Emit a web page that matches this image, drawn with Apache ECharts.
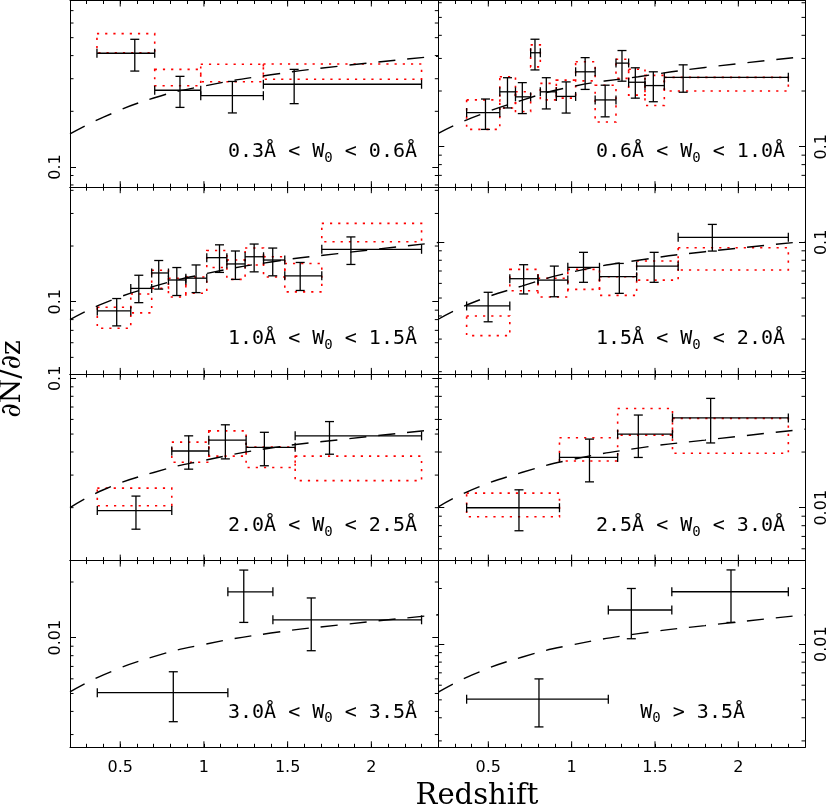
<!DOCTYPE html>
<html>
<head>
<meta charset="utf-8">
<title>dN/dz vs redshift</title>
<script src="https://cdn.jsdelivr.net/npm/echarts@6/dist/echarts.min.js"></script>
<style>
html, body { margin: 0; padding: 0; background: #fff; }
#chart { width: 830px; height: 807px; }
</style>
</head>
<body>
<div id="chart"></div>

<script>
// panel labels, W0 ranges
var panelTitles = ['0.3Å < W₀ < 0.6Å', '0.6Å < W₀ < 1.0Å', '1.0Å < W₀ < 1.5Å', '1.5Å < W₀ < 2.0Å',
                   '2.0Å < W₀ < 2.5Å', '2.5Å < W₀ < 3.0Å', '3.0Å < W₀ < 3.5Å', 'W₀ > 3.5Å'];

// measured points (one list per panel)
var zCenter = [
  [0.587, 0.857, 1.170, 1.539],
  [0.483, 0.615, 0.704, 0.780, 0.848, 0.967, 1.081, 1.201, 1.302, 1.382, 1.490, 1.669],
  [0.479, 0.611, 0.730, 0.838, 0.953, 1.093, 1.188, 1.300, 1.411, 1.575, 1.878],
  [0.499, 0.712, 0.896, 1.071, 1.286, 1.495, 1.844],
  [0.594, 0.909, 1.128, 1.361, 1.750],
  [0.684, 1.107, 1.400, 1.834],
  [0.817, 1.238, 1.641],
  [0.804, 1.358, 1.956]
];
var zLow = [
  [0.361, 0.706, 0.981, 1.355],
  [0.370, 0.569, 0.663, 0.754, 0.812, 0.908, 1.024, 1.141, 1.266, 1.342, 1.440, 1.556],
  [0.363, 0.563, 0.688, 0.788, 0.892, 1.017, 1.137, 1.246, 1.356, 1.483, 1.704],
  [0.370, 0.629, 0.798, 0.977, 1.167, 1.390, 1.639],
  [0.363, 0.808, 1.029, 1.252, 1.545],
  [0.370, 0.927, 1.276, 1.605],
  [0.363, 1.143, 1.412],
  [0.370, 1.220, 1.601]
];
var zHigh = [
  [0.706, 0.981, 1.355, 2.3],
  [0.569, 0.663, 0.754, 0.812, 0.908, 1.024, 1.141, 1.266, 1.342, 1.440, 1.556, 2.3],
  [0.563, 0.688, 0.788, 0.892, 1.017, 1.137, 1.246, 1.356, 1.483, 1.704, 2.3],
  [0.629, 0.798, 0.977, 1.167, 1.390, 1.639, 2.3],
  [0.808, 1.029, 1.252, 1.545, 2.3],
  [0.927, 1.276, 1.605, 2.3],
  [1.143, 1.412, 2.3],
  [1.220, 1.601, 2.3]
];
var dNdz = [
  [0.412, 0.260, 0.243, 0.280],
  [0.153, 0.198, 0.186, 0.322, 0.198, 0.187, 0.254, 0.179, 0.283, 0.223, 0.214, 0.237],
  [0.0891, 0.118, 0.143, 0.131, 0.134, 0.173, 0.160, 0.175, 0.168, 0.138, 0.192],
  [0.0453, 0.0636, 0.0625, 0.0733, 0.0652, 0.0744, 0.1064],
  [0.0193, 0.0405, 0.0463, 0.0424, 0.0489],
  [0.0100, 0.0187, 0.0250, 0.0306],
  [0.00505, 0.0177, 0.0125],
  [0.00504, 0.0153, 0.0192]
];
var dNdzLow = [
  [0.330, 0.210, 0.196, 0.220],
  [0.124, 0.162, 0.151, 0.260, 0.160, 0.152, 0.204, 0.145, 0.226, 0.183, 0.175, 0.197],
  [0.0740, 0.0988, 0.117, 0.108, 0.112, 0.144, 0.132, 0.145, 0.138, 0.115, 0.159],
  [0.0372, 0.0526, 0.0508, 0.0608, 0.0530, 0.0608, 0.0897],
  [0.0153, 0.0323, 0.0367, 0.0337, 0.0389],
  [0.00751, 0.0138, 0.0187, 0.0224],
  [0.00352, 0.0121, 0.00851],
  [0.00357, 0.0107, 0.0131]
];
var dNdzHigh = [
  [0.490, 0.309, 0.290, 0.337],
  [0.181, 0.236, 0.222, 0.381, 0.236, 0.224, 0.303, 0.215, 0.331, 0.267, 0.254, 0.277],
  [0.104, 0.139, 0.167, 0.153, 0.158, 0.203, 0.188, 0.205, 0.195, 0.163, 0.224],
  [0.0537, 0.0757, 0.0744, 0.0883, 0.0769, 0.0883, 0.125],
  [0.0231, 0.0489, 0.0561, 0.0511, 0.0584],
  [0.0125, 0.0235, 0.0317, 0.0390],
  [0.00655, 0.0232, 0.0164],
  [0.00649, 0.0200, 0.0252]
];

// red dotted boxes (same z bins), bottom / top
var boxLow = [
  [0.414, 0.275, 0.289, 0.298],
  [0.124, 0.162, 0.155, 0.270, 0.179, 0.183, 0.227, 0.136, 0.234, 0.190, 0.167, 0.200],
  [0.0718, 0.087, 0.118, 0.106, 0.111, 0.153, 0.132, 0.158, 0.136, 0.113, 0.211],
  [0.0313, 0.0547, 0.0506, 0.0557, 0.0517, 0.0625, 0.0709],
  [0.0205, 0.0352, 0.0380, 0.0330, 0.0280],
  [0.00894, 0.0179, 0.0247, 0.0197],
  [],
  []
];
var boxHigh = [
  [0.526, 0.337, 0.359, 0.360],
  [0.179, 0.239, 0.198, 0.355, 0.220, 0.229, 0.288, 0.215, 0.297, 0.262, 0.243, 0.237],
  [0.0933, 0.110, 0.148, 0.134, 0.136, 0.189, 0.168, 0.195, 0.175, 0.161, 0.265],
  [0.0400, 0.0714, 0.0640, 0.0714, 0.0652, 0.0792, 0.0935],
  [0.0255, 0.0452, 0.0520, 0.0425, 0.0380],
  [0.0120, 0.0239, 0.0344, 0.0304],
  [],
  []
];

var curveZ = [0.2, 0.4, 0.7, 1.0, 1.4, 1.8, 2.4];
var curveDNdz = [
  [0.151, 0.186, 0.236, 0.274, 0.315, 0.350, 0.398],
  [0.118, 0.143, 0.178, 0.211, 0.239, 0.268, 0.307],
  [0.080, 0.098, 0.121, 0.141, 0.164, 0.182, 0.209],
  [0.0384, 0.047, 0.058, 0.069, 0.080, 0.089, 0.101],
  [0.0200, 0.0250, 0.0310, 0.0360, 0.0420, 0.0465, 0.0530],
  [0.0101, 0.0125, 0.0155, 0.0182, 0.0210, 0.0232, 0.0266],
  [0.0051, 0.0063, 0.0079, 0.0092, 0.0106, 0.0117, 0.0133],
  [0.0055, 0.0068, 0.0085, 0.0099, 0.0114, 0.0126, 0.0144]
];

// axes
var yMin = [0.0778, 0.0604, 0.0407, 0.01945, 0.01035, 0.00518, 0.00256, 0.00277];
var yMax = [0.794, 0.617, 0.416, 0.1986, 0.1057, 0.0529, 0.0261, 0.0283];
var xMajor = [0.5, 1, 1.5, 2];
var mantissas = [2, 3, 4, 5, 6, 7, 8, 9];
var decades = [0.001, 0.01, 0.1];

// layout
var colLeft = [70, 438.3];
var colWidth = [368.3, 369.4];
var rowTop = [0.5, 187.2, 373.9, 560.6];
var rowH = 186.7;
var titleRight = [417, 785, 417, 785, 417, 785, 417, 745];

var chart = echarts.init(document.getElementById('chart'));

function renderBox(params, api) {
  var a = api.coord([api.value(0), api.value(3)]);
  var b = api.coord([api.value(1), api.value(2)]);
  return {
    type: 'rect',
    shape: { x: a[0], y: a[1], width: b[0] - a[0], height: b[1] - a[1] },
    style: { fill: 'none', stroke: '#ff0000', lineWidth: 1.6, lineDash: [2.2, 6] }
  };
}

function renderErr(params, api) {
  var c = api.coord([api.value(0), api.value(1)]);
  var l = api.coord([api.value(2), api.value(1)]);
  var r = api.coord([api.value(3), api.value(1)]);
  var b = api.coord([api.value(0), api.value(4)]);
  var t = api.coord([api.value(0), api.value(5)]);
  var cap = 4.5;
  var st = { stroke: '#000', lineWidth: 1.3 };
  function seg(x1, y1, x2, y2) {
    return { type: 'line', shape: { x1: x1, y1: y1, x2: x2, y2: y2 }, style: st };
  }
  return {
    type: 'group',
    children: [
      seg(l[0], c[1], r[0], c[1]),
      seg(l[0], c[1] - cap, l[0], c[1] + cap),
      seg(r[0], c[1] - cap, r[0], c[1] + cap),
      seg(c[0], t[1], c[0], b[1]),
      seg(c[0] - cap, t[1], c[0] + cap, t[1]),
      seg(c[0] - cap, b[1], c[0] + cap, b[1])
    ]
  };
}

function renderTicks(params, api) {
  var cs = params.coordSys;
  var st = { stroke: '#000', lineWidth: 1 };
  var p = api.coord([api.value(0), api.value(1)]);
  var kids = [];
  if (api.value(2) === 0) {
    // long x ticks, bottom and top
    kids.push({ type: 'line', shape: { x1: p[0], y1: cs.y + cs.height, x2: p[0], y2: cs.y + cs.height - 6 }, style: st });
    kids.push({ type: 'line', shape: { x1: p[0], y1: cs.y, x2: p[0], y2: cs.y + 6 }, style: st });
  } else {
    // short log ticks, left and right
    kids.push({ type: 'line', shape: { x1: cs.x, y1: p[1], x2: cs.x + 3.5, y2: p[1] }, style: st });
    kids.push({ type: 'line', shape: { x1: cs.x + cs.width, y1: p[1], x2: cs.x + cs.width - 3.5, y2: p[1] }, style: st });
  }
  return { type: 'group', children: kids };
}

function zLabel(v) {
  if (Math.abs(v * 2 - Math.round(v * 2)) < 1e-6) return String(+v.toFixed(1));
  return '';
}

var option = {
  animation: false,
  backgroundColor: '#fff',
  grid: [], xAxis: [], yAxis: [], series: [], graphic: []
};

var black = { color: '#000', width: 1 };
var labelFont = 'DejaVu Sans';

for (var i = 0; i < 8; i++) {
  var col = i % 2, row = Math.floor(i / 2);
  option.grid.push({ left: colLeft[col], top: rowTop[row], width: colWidth[col], height: rowH });

  ['bottom', 'top'].forEach(function (pos) {
    option.xAxis.push({
      gridIndex: i, type: 'value', position: pos, min: 0.2, max: 2.4, interval: 0.1,
      axisLine: { show: true, onZero: false, lineStyle: black },
      axisTick: { show: true, inside: true, length: 3.5, lineStyle: black },
      splitLine: { show: false },
      axisLabel: {
        show: pos === 'bottom' && row === 3, formatter: zLabel, margin: 13,
        color: '#000', fontSize: 16, fontFamily: labelFont
      }
    });
  });
  ['left', 'right'].forEach(function (pos, k) {
    option.yAxis.push({
      gridIndex: i, type: 'log', logBase: 10, position: pos, min: yMin[i], max: yMax[i],
      axisLine: { show: true, onZero: false, lineStyle: black },
      axisTick: { show: true, inside: true, length: 6, lineStyle: black },
      splitLine: { show: false },
      axisLabel: {
        show: k === col, rotate: 90, margin: k === 0 ? 6 : 9, showMinLabel: false, showMaxLabel: false,
        color: '#000', fontSize: 16, fontFamily: labelFont,
        formatter: function (v) { return String(+(+v).toPrecision(3)); }
      }
    });
  });

  var xi = 2 * i, yi = 2 * i;

  if (boxLow[i].length) {
    option.series.push({
      type: 'custom', xAxisIndex: xi, yAxisIndex: yi, silent: true, z: 2,
      renderItem: renderBox, encode: { x: [0, 1], y: [2, 3] },
      data: zLow[i].map(function (lo, k) { return [lo, zHigh[i][k], boxLow[i][k], boxHigh[i][k]]; })
    });
  }

  option.series.push({
    type: 'line', xAxisIndex: xi, yAxisIndex: yi, silent: true, z: 3,
    smooth: true, symbol: 'none',
    lineStyle: { color: '#000', width: 1.4, type: [17, 12] },
    data: curveZ.map(function (z, k) { return [z, curveDNdz[i][k]]; })
  });

  option.series.push({
    type: 'custom', xAxisIndex: xi, yAxisIndex: yi, silent: true, z: 4,
    renderItem: renderErr, encode: { x: 0, y: 1 },
    data: zCenter[i].map(function (zc, k) {
      return [zc, dNdz[i][k], zLow[i][k], zHigh[i][k], dNdzLow[i][k], dNdzHigh[i][k]];
    })
  });

  var ticks = xMajor.map(function (v) { return [v, yMin[i], 0]; });
  decades.forEach(function (d) {
    mantissas.forEach(function (m) {
      var v = m * d;
      if (v > yMin[i] && v < yMax[i]) ticks.push([1, v, 1]);
    });
  });
  option.series.push({
    type: 'custom', xAxisIndex: xi, yAxisIndex: yi, silent: true, z: 5,
    renderItem: renderTicks, encode: { x: 0, y: 1 }, data: ticks
  });

  var parts = panelTitles[i].split('₀');
  option.graphic.push({
    type: 'text', x: titleRight[i], y: rowTop[row] + rowH - 35,
    style: {
      text: '{m|' + parts[0] + '}{s|0}{m|' + parts[1] + '}',
      align: 'right', verticalAlign: 'middle',
      rich: {
        m: { fontFamily: 'DejaVu Sans Mono', fontSize: 20, fill: '#000' },
        s: { fontFamily: 'DejaVu Sans Mono', fontSize: 14, fill: '#000', padding: [13, 0, 0, 0] }
      }
    }
  });
}

option.graphic.push({
  type: 'text', x: 13, y: 379, rotation: Math.PI / 2,
  style: { text: '∂N/∂z', font: '28px "DejaVu Serif"', fill: '#000', align: 'center', verticalAlign: 'middle' }
});
option.graphic.push({
  type: 'text', x: 477, y: 796,
  style: { text: 'Redshift', font: '29px "DejaVu Serif"', fill: '#000', align: 'center', verticalAlign: 'middle' }
});

chart.setOption(option);
</script>
</body>
</html>
